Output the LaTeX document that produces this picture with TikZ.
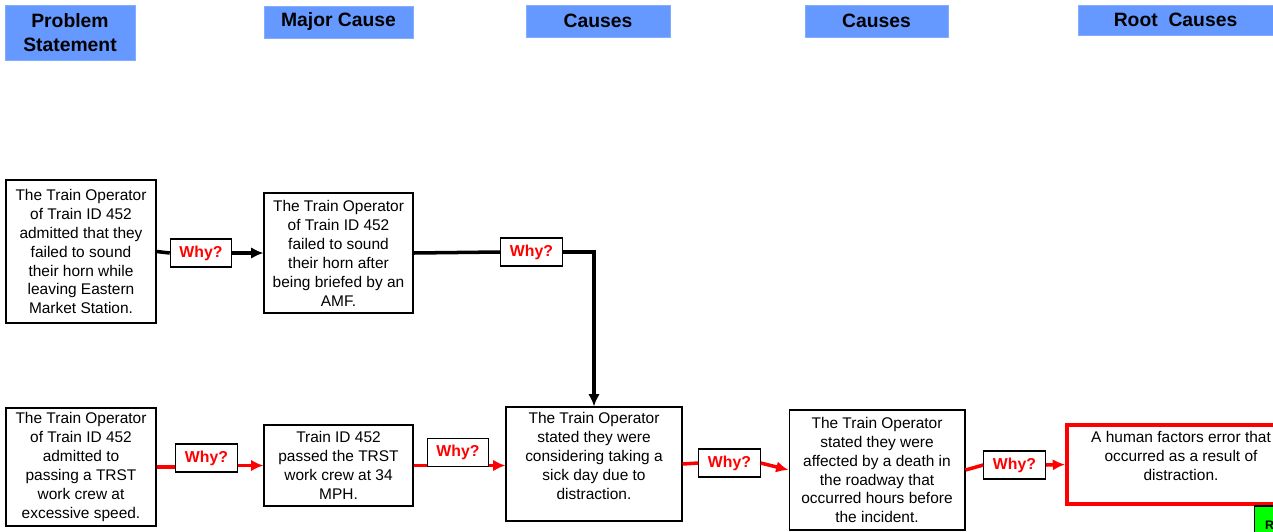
\documentclass[tikz,border=0pt]{standalone}
\usepackage{fontspec}
\setmainfont{Liberation Sans}
\usetikzlibrary{arrows, arrows.meta, positioning, calc}
\definecolor{hdrblue}{RGB}{102,153,255}
\definecolor{rcgreen}{RGB}{0,255,0}

\begin{document}
\begin{tikzpicture}[x=0.02cm, y=-0.02cm, >={Latex[length=7pt,width=6.5pt]},
    hdr/.style={fill=hdrblue, draw=hdrblue!80, align=center, inner sep=0pt, font=\fontsize{11}{13.6}\selectfont\bfseries},
    box/.style={draw, line width=0.6pt, fill=white, align=center, inner sep=0pt, font=\fontsize{8.8}{10.8}\selectfont},
    why/.style={draw, line width=0.6pt, fill=white, text=red, inner sep=0pt, minimum width=1.23cm, minimum height=0.56cm, font=\fontsize{9}{11}\selectfont\bfseries},
    blk/.style={line width=2pt, black},
    redln/.style={line width=2pt, red}]
    \useasboundingbox (0,0) rectangle (1273,531);
    \clip (0,0) rectangle (1273,531);

    % column headers
    \node[hdr, minimum width=2.6cm, minimum height=1.1cm] (h1) at (70,32.5) {Problem\\Statement};
    \node[hdr, minimum width=2.98cm, minimum height=0.64cm] (h2) at (338.5,22) {\raisebox{-1pt}{Major Cause}};
    \node[hdr, minimum width=2.88cm, minimum height=0.64cm] (h3) at (598,21) {Causes};
    \node[hdr, minimum width=2.86cm, minimum height=0.64cm] (h4) at (876.5,21) {Causes};
    \node[hdr, minimum width=3.9cm, minimum height=0.6cm] (h5) at (1175.5,20) {Root\ \ Causes};

    % upper row
    \node[box, minimum width=3cm, minimum height=2.86cm] (p1) at (81,251.5) {The Train Operator\\of Train ID 452\\admitted that they\\failed to sound\\their horn while\\leaving Eastern\\Market Station.};
    \node[box, minimum width=2.98cm, minimum height=2.4cm] (m1) at (338.5,253) {The Train Operator\\of Train ID 452\\failed to sound\\their horn after\\being briefed by an\\AMF.};
    \node[why] (w1) at (201,253) {Why?};
    \node[why] (w2) at (531.5,252) {Why?};

    % lower row
    \node[box, minimum width=3cm, minimum height=2.36cm] (p2) at (81,467) {The Train Operator\\of Train ID 452\\admitted to\\passing a TRST\\work crew at\\excessive speed.};
    \node[box, minimum width=2.98cm, minimum height=1.62cm] (m2) at (338.5,465.5) {Train ID 452\\passed the TRST\\work crew at 34\\MPH.};
    \node[box, minimum width=3.52cm, minimum height=2.28cm] (c1) at (594,464) {The Train Operator\\stated they were\\considering taking a\\sick day due to\\distraction.\\[-2pt]};
    \node[box, minimum width=3.52cm, minimum height=2.4cm] (c2) at (877,470) {The Train Operator\\stated they were\\affected by a death in\\the roadway that\\occurred hours before\\the incident.};
    \node[box, draw=red, line width=2.3pt, minimum width=4.56cm, minimum height=1.58cm] (r1) at (1181,464.5) {A human factors error that\\occurred as a result of\\distraction.\\[-1pt]};
    \node[draw, fill=rcgreen, line width=0.6pt, minimum width=0.8cm, minimum height=0.76cm, inner sep=0pt, font=\fontsize{7}{8}\selectfont\bfseries] (rc) at (1274,525) {RC\hspace{4pt}};
    \node[why] (w3) at (206.5,458) {Why?};
    \node[why] (w4) at (458,452.5) {Why?};
    \node[why] (w5) at (729.5,463) {Why?};
    \node[why] (w6) at (1014.5,465) {Why?};

    % connectors
    \draw[blk] (p1.east) -- (w1.west);
    \draw[blk, ->] (w1.east) -- (m1.west);
    \draw[blk] (m1.east) -- (w2.west);
    \draw[blk, ->] (w2.east) -| (c1.north);

    \draw[redln] (p2.east) -- (p2.east -| w3.west);
    \draw[redln, ->] (w3.east |- m2.west) -- (m2.west);
    \draw[redln] (m2.east) -- (m2.east -| w4.west);
    \draw[redln, ->] (m2.east -| w4.east) -- (c1.west |- m2.east);
    \draw[redln] (c1.east) -- (w5.west);
    \draw[redln, ->] (w5.east) -- (c2.west);
    \draw[redln] (c2.east) -- (w6.west);
    \draw[redln, ->] (w6.east) -- (r1.west);
\end{tikzpicture}
\end{document}
